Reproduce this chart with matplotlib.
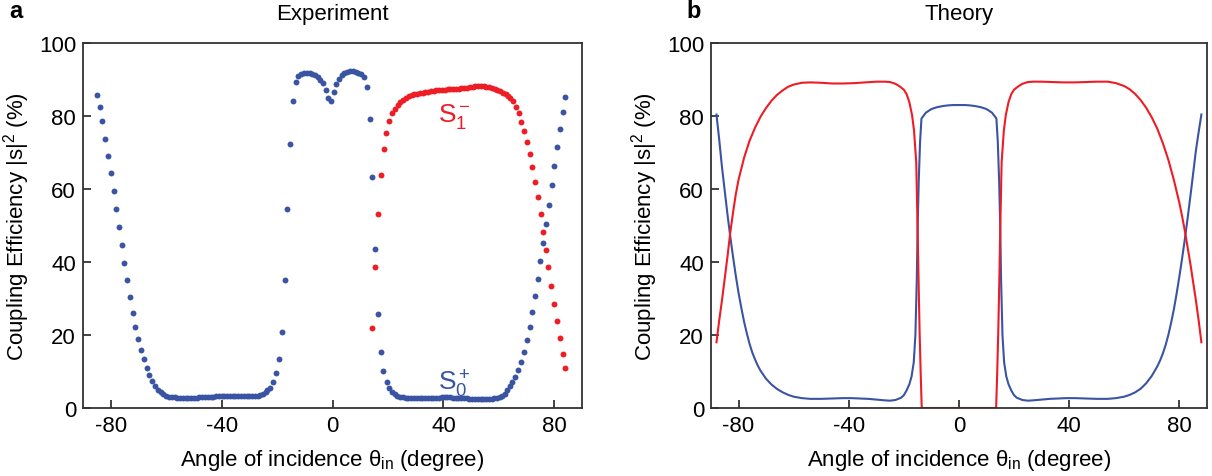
import numpy as np
import matplotlib
matplotlib.use("Agg")
import matplotlib.pyplot as plt

plt.rcParams['font.family'] = ['Liberation Sans', 'DejaVu Sans']
plt.rcParams['mathtext.fontset'] = 'custom'
plt.rcParams['mathtext.rm'] = 'Liberation Sans'
plt.rcParams['mathtext.it'] = 'Liberation Sans'
plt.rcParams['axes.unicode_minus'] = False

BLUE = '#3a54a4'
RED = '#ee1c25'

# experiment, S0+ (blue dots)
exp_blue_x = [-85, -84, -83, -82.1, -81.1, -80, -79, -78.1, -77, -76.1, -75.1, -74, -73, -72, -71.1, -70.1,
              -69.1, -68.1, -67, -66.1, -65.1, -64.1, -63, -62, -61, -60, -59, -58, -57, -56, -55, -54,
              -53, -52, -51, -50, -49, -48, -47, -46, -45, -44, -43, -42, -41, -40, -39, -38, -37, -36,
              -35, -34, -33, -32, -31, -30, -29, -28, -27, -26, -25, -24, -23.6, -22.6, -21.4, -20.4,
              -19.4, -18.4, -17.3, -16.5, -15.5, -14.4, -13.3, -12.3, -11.3, -10.3, -9.3, -8.3, -7.3,
              -6.3, -5.4, -4.5, -3.6, -2.4, -1.6, -0.4, 0.5, 1.4, 2.3, 3.3, 4.3, 5.3, 6.3, 7.3, 8.3,
              9.3, 10.3, 11.4, 12.4, 13.6, 14.4, 15.5, 16.4, 17.4, 18.2, 19.5, 20.4, 21.4, 22.4, 23.4,
              24.4, 25.4, 26.4, 27.4, 28.4, 29.4, 30.4, 31.4, 32.4, 33.4, 34.4, 35.4, 36.4, 37.4, 38.4,
              39.4, 40.4, 41.4, 42.4, 43.4, 44.4, 45.4, 46.4, 47.4, 48.4, 49.4, 50.4, 51.4, 52.4, 53.4,
              54.4, 55.4, 56.4, 57.4, 58.4, 59.4, 60.4, 61.3, 62.2, 63.1, 64.0, 64.9, 65.9, 67.0, 68.1,
              69.0, 70.1, 71.1, 72.1, 73.0, 74.1, 75.0, 76.0, 77.1, 78.1, 79.0, 80.0, 81.1, 82.0, 83.0,
              84.0]
exp_blue_y = [85.7, 82.5, 78.6, 73.8, 69.0, 64.4, 59.5, 54.6, 49.5, 44.6, 39.8, 35.1, 30.4, 26.1, 22.2, 18.9,
              15.9, 13.3, 11.0, 8.9, 7.3, 6.0, 5.0, 4.3, 3.8, 3.4, 3.1, 3.0, 2.9, 2.8, 2.8, 2.7,
              2.7, 2.7, 2.7, 2.8, 2.8, 2.9, 2.9, 3.0, 3.0, 3.1, 3.1, 3.2, 3.2, 3.2, 3.3, 3.3, 3.4, 3.4,
              3.4, 3.4, 3.4, 3.3, 3.3, 3.3, 3.2, 3.3, 3.4, 3.6, 3.9, 4.4, 4.8, 5.6, 7.1, 9.5,
              13.4, 20.8, 35.1, 54.5, 72.2, 84.2, 89.4, 91.0, 91.6, 91.8, 91.8, 91.8, 91.6,
              91.2, 90.6, 89.9, 89.0, 87.2, 84.9, 84.1, 86.7, 88.8, 90.1, 91.2, 91.8, 92.1, 92.2, 92.2, 92.1,
              91.9, 91.5, 90.6, 88.0, 79.2, 63.4, 43.6, 25.8, 15.3, 10.1, 7.2, 5.4, 4.5, 3.9, 3.4,
              3.1, 2.9, 2.8, 2.7, 2.7, 2.6, 2.6, 2.6, 2.6, 2.7, 2.7, 2.7, 2.8, 2.8, 2.8,
              2.9, 2.9, 2.9, 2.9, 2.8, 2.8, 2.8, 2.7, 2.7, 2.6, 2.5, 2.5, 2.4, 2.4, 2.4,
              2.4, 2.4, 2.5, 2.5, 2.6, 2.7, 2.9, 3.2, 3.8, 4.8, 6.0, 7.2, 8.6, 10.4, 12.7,
              15.4, 18.7, 22.3, 26.2, 30.6, 35.2, 40.2, 45.2, 50.5, 55.7, 61.1, 66.4, 71.5, 76.5, 81.0,
              85.3]

# experiment, S1- (red dots)
exp_red_x = [14.4, 15.5, 16.4, 17.4, 18.4, 19.3, 20.3, 21.5, 22.5, 23.5, 24.5, 25.5, 26.5, 27.5, 28.5,
             29.5, 30.5, 31.5, 32.5, 33.5, 34.5, 35.5, 36.5, 37.5, 38.5, 39.5, 40.5, 41.5, 42.5, 43.5,
             44.5, 45.5, 46.5, 47.5, 48.5, 49.5, 50.5, 51.5, 52.5, 53.5, 54.5, 55.5, 56.5, 57.5, 58.5,
             59.5, 60.5, 61.5, 62.5, 63.3, 64.2, 65.1, 66.1, 67.1, 68.1, 69.0, 70.0, 71.1, 72.1, 73.0,
             74.0, 75.1, 76.0, 77.0, 77.9, 78.9, 80.0, 81.1, 81.9, 83.0, 84.0]
exp_red_y = [21.9, 38.5, 53.1, 63.8, 70.9, 75.3, 78.5, 80.7, 82.0, 83.0, 83.8, 84.5, 85.0, 85.4, 85.7,
             85.9, 86.1, 86.3, 86.4, 86.5, 86.7, 86.8, 86.9, 87.0, 87.1, 87.1, 87.2, 87.3, 87.4, 87.4,
             87.5, 87.5, 87.6, 87.7, 87.8, 87.9, 88.0, 88.1, 88.1, 88.1, 88.1, 88.0, 87.9, 87.7, 87.4,
             87.1, 86.8, 86.4, 86.0, 85.5, 84.9, 84.2, 82.5, 80.7, 78.4, 75.9, 72.9, 69.7, 66.0, 62.0,
             57.8, 53.2, 48.2, 43.4, 38.5, 33.4, 28.6, 23.7, 19.2, 14.8, 10.9]

# theory, S0+ (blue line)
th_blue_x = [-88, -87, -86, -85, -84, -83, -82, -81, -80, -79, -78, -77, -76, -75, -74, -73, -72, -70,
             -68, -66, -64, -62, -60, -57, -54, -50, -46, -42, -39, -36, -33, -30, -27, -25, -23, -21,
             -20, -19, -18, -17.2, -16.4, -15.8, -15.3, -15.0, -14.6, -14.1, -13.6, -12, -10, -8, -6,
             -4, -2, 0, 2, 4, 6, 8, 10, 12, 13.6, 14.1, 14.6, 15.0, 15.3, 15.8, 16.4, 17.2, 18, 19,
             20, 21, 23, 25, 27, 30, 33, 36, 39, 42, 46, 50, 54, 57, 60, 62, 64, 66, 68, 70, 72, 73, 74,
             75, 76, 77, 78, 79, 80, 81, 82, 83, 84, 85, 86, 87, 88]
th_blue_y = [80.4, 73.5, 66.0, 59.5, 53.0, 47.0, 41.5, 36.3, 31.6, 27.5, 23.7, 20.5, 17.6, 15.2, 13.3, 11.6, 10.2, 8.0,
             6.4, 5.2, 4.3, 3.6, 3.1, 2.7, 2.5, 2.5, 2.6, 2.7, 2.7, 2.6, 2.5, 2.3, 2.1, 2.0, 2.2, 2.8,
             3.5, 4.8, 6.5, 8.6, 12.5, 20.0, 35.0, 49.0, 62.0, 73.0, 79.3, 80.9, 81.9, 82.4, 82.7,
             82.9, 83.0, 83.0, 83.0, 82.9, 82.7, 82.4, 81.9, 80.9, 79.3, 73.0, 62.0, 49.0, 35.0, 20.0, 12.5, 8.6, 6.5, 4.8,
             3.5, 2.8, 2.2, 2.0, 2.1, 2.3, 2.5, 2.6, 2.7, 2.7, 2.6, 2.5, 2.5, 2.7, 3.1, 3.6, 4.3, 5.3, 6.8, 8.8, 11.4, 13.0, 14.9,
             17.2, 20.0, 23.3, 27.0, 31.3, 36.0, 41.0, 46.3, 52.0, 58.0, 64.2, 70.5, 75.6, 80.4]

# theory, S1- (red line)
th_red_x = [-88, -87, -86, -85, -84, -83, -82, -81, -80, -78, -76, -74, -72, -70, -68, -66, -64, -62, -60,
            -57, -54, -50, -46, -42, -38, -34, -30, -27, -25, -23, -21.5, -20, -19, -18, -17, -16.3,
            -15.5, -15.0, -14.6, -14.3, -13.9, -13.5, 13.5, 13.9, 14.3, 14.6, 15.0, 15.5, 16.3, 17, 18,
            19, 20, 21.5, 23, 25, 27, 30, 34, 38, 42, 46, 50, 54, 57, 60, 62, 64, 66, 68, 70, 72, 74, 76,
            78, 80, 81, 82, 83, 84, 85, 86, 87, 88]
th_red_y = [18.0, 24.0, 29.5, 35.5, 41.5, 48.0, 53.5, 58.5, 62.5, 68.5, 73.2, 76.8, 79.8, 82.2, 84.2, 85.8, 87.0, 88.0, 88.6,
            89.1, 89.2, 89.1, 88.9, 88.9, 89.0, 89.2, 89.4, 89.4, 89.3, 88.8, 88.1, 87.2, 86.0, 83.8, 80.2, 76.0,
            67.4, 49.0, 33.0, 21.7, 10.0, 0.0, 0.0, 10.0, 21.7, 33.0, 49.0, 67.4, 76.0, 80.2, 83.8,
            86.0, 87.2, 88.1, 88.8, 89.3, 89.4, 89.4, 89.3, 89.2, 89.2, 89.3, 89.4, 89.4, 89.0, 88.2, 87.3, 86.0, 84.3, 82.2, 79.6, 76.5, 72.6, 68.0,
            62.5, 56.2, 52.5, 48.5, 44.0, 39.5, 34.5, 29.5, 24.0, 18.0]

fig = plt.figure(figsize=(12.12, 4.77), dpi=100)
ax1 = fig.add_axes([0.0685, 0.1426, 0.4117, 0.7652])
ax2 = fig.add_axes([0.5866, 0.1426, 0.4092, 0.7652])

ax1.scatter(exp_blue_x, exp_blue_y, s=18, color=BLUE, linewidths=0, zorder=3)
ax1.scatter(exp_red_x, exp_red_y, s=18, color=RED, linewidths=0, zorder=3)
ax1.text(44, 80, r'$\mathregular{S_1^-}$', color=RED, fontsize=19, ha='center', va='center')
ax1.text(44, 7, r'$\mathregular{S_0^+}$', color=BLUE, fontsize=19, ha='center', va='center')

ax2.plot(th_blue_x, th_blue_y, color=BLUE, lw=1.5)
ax2.plot(th_red_x, th_red_y, color=RED, lw=1.5)

for ax, title in [(ax1, 'Experiment'), (ax2, 'Theory')]:
    ax.set_xlim(-90, 90)
    ax.set_ylim(0, 100)
    ax.set_xticks([-80, -40, 0, 40, 80])
    ax.set_yticks([0, 20, 40, 60, 80, 100])
    ax.tick_params(direction='in', length=6, width=1.2, labelsize=16, pad=5, color='#222222')
    for sp in ax.spines.values():
        sp.set_linewidth(1.3)
        sp.set_color('#333333')
    ax.set_title(title, fontsize=16, pad=17)
    ax.set_xlabel(r'Angle of incidence $\mathregular{\theta_{in}}$ (degree)', fontsize=16, labelpad=8)
    ax.set_ylabel(r'Coupling Efficiency $\mathregular{|s|^2}$ (%)', fontsize=16, labelpad=5)

fig.text(0.008, 0.975, 'a', fontsize=17, fontweight='bold', va='center')
fig.text(0.566, 0.975, 'b', fontsize=17, fontweight='bold', va='center')

fig.savefig('out.png', dpi=100)
